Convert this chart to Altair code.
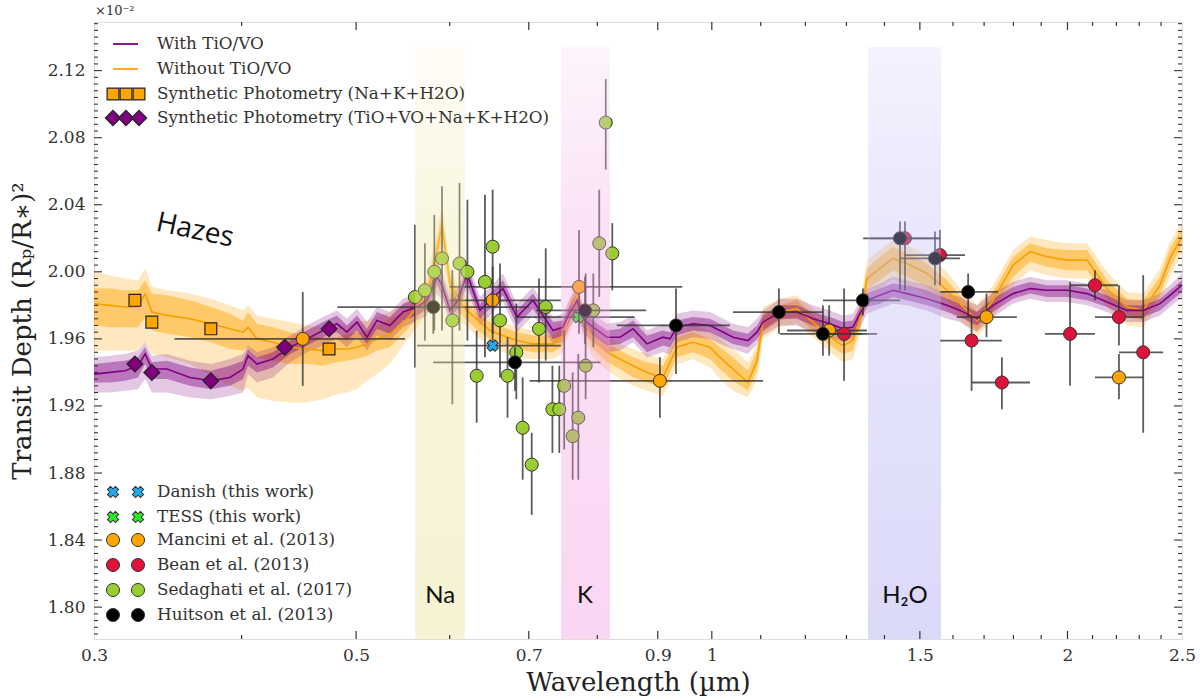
import altair as alt
import pandas as pd

# ---------------- model spectra ----------------
wavelength = [0.300, 0.3095, 0.3187, 0.3269, 0.3314, 0.3359, 0.3459, 0.3617, 0.3768, 0.3910,
              0.4011, 0.4050, 0.4121, 0.4252, 0.4395, 0.4543, 0.4687, 0.4817, 0.4911, 0.5008,
              0.5107, 0.5207, 0.5341, 0.5478, 0.5630, 0.5740, 0.5854, 0.5911, 0.6004, 0.6099,
              0.6206, 0.6365, 0.6490, 0.6656, 0.6841, 0.7057, 0.7339, 0.7482, 0.7585, 0.7690,
              0.7779, 0.7933, 0.8153, 0.8362, 0.8577, 0.8813, 0.9091, 0.9217, 0.9344, 0.9639,
              0.9963, 1.0160, 1.0421, 1.0730, 1.0920, 1.1049, 1.1421, 1.1804, 1.2179, 1.2590,
              1.2914, 1.3166, 1.3349, 1.3532, 1.3878, 1.4234, 1.4626, 1.5210, 1.5815, 1.6221,
              1.6767, 1.7298, 1.7989, 1.8592, 1.9218, 1.9985, 2.0780, 2.1600, 2.2457, 2.3172,
              2.3953, 2.4422, 2.5000]

# Without TiO/VO (orange)
o_mid = [1.981, 1.980, 1.979, 1.979, 1.987, 1.976, 1.974, 1.972, 1.969, 1.966,
         1.964, 1.967, 1.960, 1.958, 1.955, 1.954, 1.953, 1.954, 1.954, 1.955,
         1.957, 1.960, 1.963, 1.969, 1.979, 1.986, 2.013, 2.028, 1.993, 1.983,
         1.977, 1.970, 1.965, 1.962, 1.959, 1.957, 1.957, 1.962, 1.976, 1.986,
         1.972, 1.960, 1.952, 1.948, 1.944, 1.940, 1.937, 1.946, 1.955, 1.958,
         1.955, 1.949, 1.942, 1.934, 1.947, 1.970, 1.976, 1.978, 1.970, 1.961,
         1.956, 1.959, 1.972, 1.996, 2.002, 2.008, 2.005, 1.999, 1.989, 1.981,
         1.971, 1.983, 2.004, 2.012, 2.009, 2.007, 2.007, 1.990, 1.979, 1.977,
         1.992, 2.008, 2.021]
o_hi1 = [1.990, 1.990, 1.989, 1.989, 1.995, 1.987, 1.986, 1.983, 1.979, 1.975,
         1.971, 1.976, 1.969, 1.967, 1.964, 1.962, 1.961, 1.961, 1.963, 1.964,
         1.965, 1.968, 1.972, 1.976, 1.984, 1.992, 2.019, 2.034, 1.998, 1.987,
         1.981, 1.974, 1.970, 1.967, 1.964, 1.962, 1.962, 1.967, 1.981, 1.992,
         1.977, 1.965, 1.957, 1.953, 1.949, 1.946, 1.944, 1.952, 1.961, 1.964,
         1.960, 1.955, 1.949, 1.941, 1.953, 1.975, 1.980, 1.983, 1.974, 1.966,
         1.961, 1.964, 1.977, 2.002, 2.009, 2.015, 2.011, 2.005, 1.995, 1.986,
         1.976, 1.988, 2.009, 2.017, 2.014, 2.013, 2.013, 1.995, 1.984, 1.983,
         1.997, 2.014, 2.026]
o_lo1 = [1.968, 1.967, 1.967, 1.967, 1.973, 1.965, 1.963, 1.961, 1.958, 1.954,
         1.953, 1.955, 1.949, 1.947, 1.945, 1.945, 1.944, 1.946, 1.947, 1.948,
         1.950, 1.953, 1.955, 1.963, 1.972, 1.980, 2.006, 2.019, 1.987, 1.977,
         1.971, 1.964, 1.960, 1.957, 1.954, 1.952, 1.952, 1.956, 1.970, 1.979,
         1.966, 1.954, 1.946, 1.942, 1.937, 1.934, 1.931, 1.940, 1.949, 1.952,
         1.948, 1.942, 1.935, 1.929, 1.941, 1.964, 1.971, 1.973, 1.965, 1.956,
         1.951, 1.953, 1.967, 1.990, 1.995, 2.001, 1.997, 1.991, 1.983, 1.975,
         1.965, 1.977, 1.997, 2.006, 2.003, 2.001, 2.001, 1.984, 1.973, 1.971,
         1.986, 2.002, 2.016]
o_hi2 = [2.000, 1.998, 1.996, 1.995, 2.002, 1.991, 1.989, 1.987, 1.984, 1.980,
         1.977, 1.980, 1.974, 1.972, 1.970, 1.968, 1.967, 1.967, 1.968, 1.970,
         1.971, 1.973, 1.976, 1.980, 1.989, 1.996, 2.024, 2.040, 2.002, 1.991,
         1.985, 1.978, 1.974, 1.970, 1.967, 1.965, 1.965, 1.971, 1.985, 1.996,
         1.981, 1.970, 1.961, 1.957, 1.954, 1.951, 1.948, 1.956, 1.965, 1.968,
         1.965, 1.960, 1.954, 1.946, 1.957, 1.979, 1.984, 1.986, 1.978, 1.970,
         1.965, 1.968, 1.981, 2.007, 2.013, 2.019, 2.016, 2.010, 2.000, 1.990,
         1.980, 1.992, 2.013, 2.021, 2.019, 2.017, 2.017, 2.000, 1.988, 1.987,
         2.002, 2.018, 2.030]
o_lo2 = [1.953, 1.953, 1.953, 1.953, 1.958, 1.951, 1.949, 1.945, 1.938, 1.932,
         1.929, 1.931, 1.925, 1.923, 1.922, 1.922, 1.924, 1.927, 1.928, 1.930,
         1.935, 1.939, 1.945, 1.956, 1.967, 1.975, 2.000, 2.012, 1.983, 1.973,
         1.967, 1.960, 1.956, 1.952, 1.949, 1.948, 1.948, 1.952, 1.965, 1.974,
         1.961, 1.949, 1.941, 1.936, 1.932, 1.929, 1.926, 1.934, 1.945, 1.948,
         1.943, 1.936, 1.929, 1.925, 1.936, 1.960, 1.967, 1.969, 1.961, 1.952,
         1.946, 1.948, 1.963, 1.986, 1.990, 1.996, 1.992, 1.986, 1.978, 1.971,
         1.961, 1.972, 1.992, 2.001, 1.998, 1.996, 1.996, 1.979, 1.968, 1.967,
         1.981, 1.997, 2.011]

# With TiO/VO (purple)
p_mid = [1.939, 1.940, 1.941, 1.944, 1.951, 1.942, 1.942, 1.937, 1.935, 1.937,
         1.942, 1.950, 1.945, 1.948, 1.955, 1.960, 1.965, 1.969, 1.964, 1.970,
         1.961, 1.971, 1.968, 1.976, 1.979, 1.983, 1.997, 1.992, 1.977, 1.983,
         1.999, 1.977, 1.983, 1.990, 1.973, 1.983, 1.965, 1.967, 1.976, 1.983,
         1.972, 1.967, 1.961, 1.961, 1.966, 1.957, 1.961, 1.960, 1.967, 1.969,
         1.968, 1.965, 1.961, 1.959, 1.964, 1.970, 1.976, 1.976, 1.972, 1.969,
         1.966, 1.967, 1.975, 1.983, 1.986, 1.989, 1.987, 1.984, 1.980, 1.977,
         1.972, 1.980, 1.987, 1.990, 1.989, 1.989, 1.987, 1.982, 1.977, 1.977,
         1.981, 1.986, 1.992]
p_hi1 = [1.945, 1.946, 1.947, 1.949, 1.955, 1.946, 1.947, 1.943, 1.941, 1.944,
         1.947, 1.954, 1.949, 1.952, 1.959, 1.965, 1.970, 1.974, 1.968, 1.974,
         1.966, 1.976, 1.973, 1.981, 1.984, 1.987, 2.002, 1.997, 1.982, 1.987,
         2.004, 1.981, 1.987, 1.995, 1.977, 1.987, 1.970, 1.971, 1.980, 1.987,
         1.977, 1.971, 1.965, 1.966, 1.971, 1.962, 1.965, 1.964, 1.971, 1.973,
         1.972, 1.969, 1.965, 1.963, 1.968, 1.974, 1.980, 1.980, 1.976, 1.973,
         1.970, 1.971, 1.979, 1.987, 1.990, 1.993, 1.992, 1.989, 1.984, 1.981,
         1.976, 1.984, 1.991, 1.994, 1.992, 1.992, 1.990, 1.986, 1.980, 1.980,
         1.984, 1.989, 1.995]
p_lo1 = [1.934, 1.934, 1.935, 1.937, 1.945, 1.936, 1.936, 1.932, 1.930, 1.932,
         1.936, 1.944, 1.940, 1.943, 1.951, 1.956, 1.961, 1.964, 1.959, 1.965,
         1.957, 1.966, 1.963, 1.971, 1.974, 1.978, 1.992, 1.986, 1.973, 1.978,
         1.993, 1.972, 1.978, 1.986, 1.968, 1.978, 1.960, 1.962, 1.971, 1.978,
         1.967, 1.962, 1.956, 1.957, 1.961, 1.952, 1.956, 1.955, 1.962, 1.965,
         1.964, 1.961, 1.957, 1.955, 1.960, 1.965, 1.972, 1.972, 1.968, 1.965,
         1.962, 1.963, 1.971, 1.979, 1.981, 1.985, 1.983, 1.980, 1.976, 1.973,
         1.968, 1.976, 1.984, 1.987, 1.985, 1.985, 1.983, 1.979, 1.973, 1.973,
         1.977, 1.982, 1.988]
p_hi2 = [1.949, 1.950, 1.951, 1.953, 1.958, 1.950, 1.951, 1.947, 1.945, 1.948,
         1.951, 1.956, 1.952, 1.955, 1.962, 1.968, 1.973, 1.977, 1.972, 1.978,
         1.970, 1.979, 1.976, 1.984, 1.987, 1.991, 2.006, 2.001, 1.986, 1.991,
         2.007, 1.985, 1.991, 1.999, 1.981, 1.991, 1.973, 1.975, 1.984, 1.991,
         1.980, 1.975, 1.969, 1.970, 1.974, 1.965, 1.969, 1.968, 1.975, 1.977,
         1.976, 1.973, 1.969, 1.967, 1.972, 1.977, 1.984, 1.984, 1.980, 1.977,
         1.974, 1.975, 1.983, 1.990, 1.993, 1.997, 1.995, 1.992, 1.987, 1.985,
         1.980, 1.988, 1.994, 1.997, 1.995, 1.995, 1.993, 1.989, 1.983, 1.983,
         1.987, 1.992, 1.999]
p_lo2 = [1.928, 1.928, 1.929, 1.930, 1.936, 1.928, 1.928, 1.925, 1.924, 1.926,
         1.928, 1.939, 1.934, 1.937, 1.946, 1.952, 1.956, 1.960, 1.955, 1.961,
         1.953, 1.962, 1.959, 1.967, 1.971, 1.974, 1.987, 1.983, 1.969, 1.974,
         1.990, 1.968, 1.974, 1.982, 1.964, 1.974, 1.957, 1.958, 1.967, 1.974,
         1.964, 1.958, 1.952, 1.953, 1.958, 1.949, 1.952, 1.951, 1.958, 1.961,
         1.960, 1.957, 1.954, 1.951, 1.957, 1.962, 1.968, 1.968, 1.964, 1.961,
         1.958, 1.960, 1.967, 1.975, 1.978, 1.981, 1.980, 1.977, 1.972, 1.970,
         1.964, 1.973, 1.981, 1.984, 1.982, 1.982, 1.980, 1.976, 1.970, 1.970,
         1.974, 1.979, 1.985]

# ---------------- synthetic photometry ----------------
syn_sq_wl = [0.3249, 0.3358, 0.3767, 0.4743]
syn_sq_val = [1.983, 1.970, 1.966, 1.954]
syn_di_wl = [0.3249, 0.3358, 0.3767, 0.4351, 0.4743]
syn_di_val = [1.945, 1.940, 1.935, 1.955, 1.966]

# ---------------- observations ----------------
sed_wl = [0.5607, 0.5717, 0.5823, 0.5911, 0.6031, 0.6116, 0.6211, 0.6427, 0.6524, 0.6324,
          0.6618, 0.6716, 0.6832, 0.6917, 0.7040, 0.7235, 0.7141, 0.7500, 0.7330, 0.7429,
          0.7625, 0.7709, 0.7820, 0.7938, 0.8030, 0.8237, 0.8133]
sed_val = [1.985, 1.989, 2.000, 2.008, 1.971, 2.005, 2.000, 1.994, 2.015, 1.938,
           1.971, 1.938, 1.952, 1.907, 1.885, 1.979, 1.966, 1.932, 1.918, 1.918,
           1.902, 1.913, 1.944, 1.977, 2.017, 2.011, 2.089]
sed_lo = [1.943, 1.959, 1.965, 1.965, 1.921, 1.965, 1.959, 1.949, 1.959, 1.910,
          1.937, 1.913, 1.924, 1.876, 1.855, 1.947, 1.934, 1.894, 1.892, 1.892,
          1.876, 1.876, 1.924, 1.955, 1.985, 1.989, 2.061]
sed_hi = [2.028, 2.017, 2.034, 2.051, 2.001, 2.053, 2.043, 2.046, 2.049, 1.965,
          2.005, 1.961, 1.981, 1.937, 1.904, 2.014, 1.996, 1.965, 1.944, 1.944,
          1.940, 1.951, 1.999, 1.999, 2.049, 2.029, 2.115]

hui_wl = [0.5811, 0.6814, 0.7810, 0.9326, 1.1397, 1.2418, 1.3425, 1.4430, 1.5450, 1.6480]
hui_val = [1.979, 1.946, 1.977, 1.968, 1.976, 1.963, 1.983, 2.020, 2.008, 1.988]
hui_xlo = [0.482, 0.581, 0.710, 0.831, 1.042, 1.142, 1.242, 1.343, 1.443, 1.560]
hui_xhi = [0.700, 0.805, 0.880, 1.036, 1.242, 1.342, 1.443, 1.560, 1.622, 1.747]
hui_ylo = [1.963, 1.929, 1.957, 1.939, 1.963, 1.950, 1.974, 1.989, 1.992, 1.973]
hui_yhi = [1.995, 1.955, 1.997, 1.990, 1.990, 1.980, 1.990, 2.030, 2.024, 1.999]

bean_wl = [1.294, 1.457, 1.560, 1.659, 1.760, 2.010, 2.110, 2.211, 2.318]
bean_val = [1.963, 2.020, 2.010, 1.959, 1.934, 1.963, 1.992, 1.973, 1.952]
bean_xlo = [1.252, 1.360, 1.457, 1.560, 1.660, 1.914, 2.010, 2.110, 2.211]
bean_xhi = [1.380, 1.560, 1.638, 1.760, 1.859, 2.110, 2.207, 2.317, 2.410]
bean_ylo = [1.935, 1.989, 1.992, 1.929, 1.918, 1.932, 1.983, 1.956, 1.904]
bean_yhi = [1.990, 2.030, 2.025, 1.973, 1.949, 1.994, 2.001, 1.992, 1.998]

man_wl = [0.4506, 0.6524, 0.7720, 0.9038, 1.2569, 1.708, 2.211]
man_val = [1.960, 1.983, 1.991, 1.935, 1.965, 1.973, 1.937]
man_xlo = [0.351, 0.600, 0.600, 0.701, 1.158, 1.612, 2.110]
man_xhi = [0.550, 0.745, 0.944, 1.105, 1.353, 1.812, 2.317]
man_ylo = [1.932, 1.963, 1.963, 1.913, 1.950, 1.961, 1.924]
man_yhi = [1.988, 2.003, 2.025, 1.949, 1.980, 1.987, 1.951]

dan_wl, dan_val, dan_xlo, dan_xhi, dan_ylo, dan_yhi = [0.6524], [1.956], [0.563], [0.745], [1.953], [1.959]
tess_wl, tess_val, tess_xlo, tess_xhi, tess_ylo, tess_yhi = [0.771], [1.973], [0.684], [0.860], [1.970], [1.976]

# absorption bands
band_names = ["Na", "K", "H₂O"]
band_lo = [0.561, 0.7455, 1.356]
band_hi = [0.618, 0.820, 1.563]
band_label_wl = [0.589, 0.781, 1.457]
band_top = 2.134

x_major = [0.3, 0.5, 0.7, 0.9, 1, 1.5, 2, 2.5]
x_minor = [0.4, 0.6, 0.8, 1.1, 1.2, 1.3, 1.4, 1.6, 1.7, 1.8, 1.9, 2.1, 2.2, 2.3, 2.4]
y_major = [1.80, 1.84, 1.88, 1.92, 1.96, 2.00, 2.04, 2.08, 2.12]
y_minor = [round(1.78 + 0.004 * k, 3) for k in range(1, 93)]
y_minor = [v for v in y_minor if all(abs(v - m) > 1e-6 for m in y_major)]

# ---------------- build ----------------
W, H = 1088, 617
SERIF = "DejaVu Serif"
PURPLE, ORANGE = "#800080", "#ffa500"

xs = alt.Scale(type="log", domain=[0.3, 2.5], nice=False)
ys = alt.Scale(domain=[1.781, 2.149], nice=False, zero=False)

x_axis = alt.Axis(values=x_major, format="~g", labelFont=SERIF, labelFontSize=17, labelColor="#333",
                  labelPadding=8, labelFlush=False, labelOverlap=False, ticks=False, domain=False,
                  grid=False, title="Wavelength (µm)", titleFont=SERIF, titleFontSize=26,
                  titleFontWeight="normal", titleColor="#222", titlePadding=6)
y_axis = alt.Axis(values=y_major, format=".2f", labelFont=SERIF, labelFontSize=17, labelColor="#333",
                  labelPadding=9, labelOverlap=False, ticks=False, domain=False, grid=False,
                  title="Transit Depth (Rₚ/R∗)²", titleFont=SERIF, titleFontSize=26,
                  titleFontWeight="normal", titleColor="#222", titlePadding=12)


def X(f):
    return alt.X(f, type="quantitative", scale=xs, axis=x_axis, title="Wavelength (µm)")


def Y(f):
    return alt.Y(f, type="quantitative", scale=ys, axis=y_axis, title="Transit Depth (Rₚ/R∗)²")


model = pd.DataFrame(dict(wl=wavelength, o_mid=o_mid, o_hi1=o_hi1, o_lo1=o_lo1, o_hi2=o_hi2, o_lo2=o_lo2,
                          p_mid=p_mid, p_hi1=p_hi1, p_lo1=p_lo1, p_hi2=p_hi2, p_lo2=p_lo2))
mb = alt.Chart(model)
layers = [
    mb.mark_area(color=ORANGE, opacity=0.25).encode(x=X("wl"), y=Y("o_lo2"), y2="o_hi2"),
    mb.mark_area(color=ORANGE, opacity=0.45).encode(x=X("wl"), y=Y("o_lo1"), y2="o_hi1"),
    mb.mark_area(color=PURPLE, opacity=0.22).encode(x=X("wl"), y=Y("p_lo2"), y2="p_hi2"),
    mb.mark_area(color=PURPLE, opacity=0.4).encode(x=X("wl"), y=Y("p_lo1"), y2="p_hi1"),
    mb.mark_line(color="#f5a000", strokeWidth=1.6).encode(x=X("wl"), y=Y("o_mid")),
    mb.mark_line(color=PURPLE, strokeWidth=1.6).encode(x=X("wl"), y=Y("p_mid")),
]

syn_sq = pd.DataFrame(dict(wl=syn_sq_wl, val=syn_sq_val))
syn_di = pd.DataFrame(dict(wl=syn_di_wl, val=syn_di_val))
layers.append(alt.Chart(syn_sq).mark_point(shape="square", filled=True, fill=ORANGE, stroke="#222",
                                           strokeWidth=1.2, size=140, opacity=1)
              .encode(x=X("wl"), y=Y("val")))
layers.append(alt.Chart(syn_di).mark_point(shape="diamond", filled=True, fill=PURPLE, stroke="#222",
                                           strokeWidth=1.2, size=250, opacity=1)
              .encode(x=X("wl"), y=Y("val")))

frames = []
for name, wl_, v_, xl, xh, yl, yh in [
    ("Danish", dan_wl, dan_val, dan_xlo, dan_xhi, dan_ylo, dan_yhi),
    ("TESS", tess_wl, tess_val, tess_xlo, tess_xhi, tess_ylo, tess_yhi),
    ("Mancini", man_wl, man_val, man_xlo, man_xhi, man_ylo, man_yhi),
    ("Bean", bean_wl, bean_val, bean_xlo, bean_xhi, bean_ylo, bean_yhi),
    ("Sedaghati", sed_wl, sed_val, [None] * len(sed_wl), [None] * len(sed_wl), sed_lo, sed_hi),
    ("Huitson", hui_wl, hui_val, hui_xlo, hui_xhi, hui_ylo, hui_yhi),
]:
    frames.append(pd.DataFrame(dict(source=name, wl=wl_, val=v_, xlo=xl, xhi=xh, ylo=yl, yhi=yh)))
obs = pd.concat(frames, ignore_index=True)

styles = {
    "Danish": dict(shape="cross", fill="#22aaee", size=130, angle=45),
    "TESS": dict(shape="cross", fill="#22ee22", size=130, angle=45),
    "Mancini": dict(shape="circle", fill="#ffa500", size=170),
    "Bean": dict(shape="circle", fill="#dc143c", size=170),
    "Sedaghati": dict(shape="circle", fill="#9acd32", size=170),
    "Huitson": dict(shape="circle", fill="#000000", size=170),
}

for name in ["Danish", "TESS", "Mancini", "Bean", "Sedaghati", "Huitson"]:
    src = alt.Chart(obs).transform_filter(alt.datum.source == name)
    layers.append(src.mark_rule(color="#333", strokeWidth=1.8, opacity=0.8)
                  .encode(x=X("wl"), y=Y("ylo"), y2="yhi"))
    if name != "Sedaghati":
        layers.append(src.mark_rule(color="#333", strokeWidth=1.8, opacity=0.8)
                      .encode(x=X("xlo"), x2="xhi", y=Y("val")))
    st = styles[name]
    layers.append(src.mark_point(filled=True, stroke="#333", strokeWidth=1, opacity=1, **st)
                  .encode(x=X("wl"), y=Y("val")))

# shaded absorption bands (overlaid, translucent)
grads = [
    ["#fcf9e5", "#eee5a4", "#e5da81"],
    ["#f9e2f6", "#f4ace8", "#f18add"],
    ["#dddafc", "#c0bdf6", "#9892eb"],
]
for lo, hi, g in zip(band_lo, band_hi, grads):
    fill = alt.LinearGradient(gradient="linear", x1=0, x2=0, y1=0, y2=1,
                              stops=[alt.GradientStop(color=g[0], offset=0),
                                     alt.GradientStop(color=g[1], offset=0.3),
                                     alt.GradientStop(color=g[2], offset=1)])
    bdf = pd.DataFrame(dict(lo=[lo], hi=[hi], top=[band_top], bot=[1.781]))
    layers.append(alt.Chart(bdf).mark_rect(fill=fill, opacity=0.35)
                  .encode(x=X("lo"), x2="hi", y=Y("top"), y2="bot"))

lab = pd.DataFrame(dict(wl=band_label_wl, val=[1.8066] * 3, t=band_names))
layers.append(alt.Chart(lab).mark_text(font="Lato, DejaVu Sans", fontSize=24, color="#111")
              .encode(x=X("wl"), y=Y("val"), text="t:N"))
haz = pd.DataFrame(dict(wl=[0.3652], val=[2.0245], t=["Hazes"]))
layers.append(alt.Chart(haz).mark_text(font="Open Sans", fontSize=28, angle=12, color="#111")
              .encode(x=X("wl"), y=Y("val"), text="t:N"))

# inward ticks on all four sides
TICK = "#333"
for vals, L in [(x_major[1:-1], 8), (x_minor, 4)]:
    tdf = pd.DataFrame(dict(v=vals))
    layers.append(alt.Chart(tdf).mark_rule(color=TICK, strokeWidth=1.2)
                  .encode(x=X("v"), y=alt.value(H), y2=alt.value(H - L)))
    layers.append(alt.Chart(tdf).mark_rule(color=TICK, strokeWidth=1.2)
                  .encode(x=X("v"), y=alt.value(0), y2=alt.value(L)))
for vals, L in [(y_major, 8), (y_minor, 4)]:
    tdf = pd.DataFrame(dict(v=vals))
    layers.append(alt.Chart(tdf).mark_rule(color=TICK, strokeWidth=1.1)
                  .encode(y=Y("v"), x=alt.value(0), x2=alt.value(L)))
    layers.append(alt.Chart(tdf).mark_rule(color=TICK, strokeWidth=1.1)
                  .encode(y=Y("v"), x=alt.value(W), x2=alt.value(W - L)))

# ---------------- hand-made legends ----------------
one = pd.DataFrame(dict(d=[0]))
LEG_FONT = 16.8
top_rows = [("With TiO/VO", "line", PURPLE, 22),
            ("Without TiO/VO", "line", ORANGE, 47),
            ("Synthetic Photometry (Na+K+H2O)", "square", ORANGE, 72),
            ("Synthetic Photometry (TiO+VO+Na+K+H2O)", "diamond", PURPLE, 96)]
for label, kind, col, ly in top_rows:
    if kind == "line":
        layers.append(alt.Chart(one).mark_rule(color=col, strokeWidth=1.8)
                      .encode(x=alt.value(19), x2=alt.value(44), y=alt.value(ly)))
    else:
        for lx in [19, 32, 45]:
            layers.append(alt.Chart(one).mark_point(shape=kind, filled=True, fill=col, stroke="#222",
                                                    strokeWidth=1.2, opacity=1,
                                                    size=140 if kind == "square" else 230)
                          .encode(x=alt.value(lx), y=alt.value(ly)))
    layers.append(alt.Chart(one).mark_text(text=label, align="left", baseline="middle", font=SERIF,
                                           fontSize=LEG_FONT, color="#333")
                  .encode(x=alt.value(63), y=alt.value(ly)))

bot_rows = [("Danish (this work)", "Danish", 470),
            ("TESS (this work)", "TESS", 495),
            ("Mancini et al. (2013)", "Mancini", 518),
            ("Bean et al. (2013)", "Bean", 543),
            ("Sedaghati et al. (2017)", "Sedaghati", 568),
            ("Huitson et al. (2013)", "Huitson", 593)]
for label, key, ly in bot_rows:
    st = styles[key]
    for lx in [19, 44]:
        layers.append(alt.Chart(one).mark_point(filled=True, stroke="#333", strokeWidth=1, opacity=1, **st)
                      .encode(x=alt.value(lx), y=alt.value(ly)))
    layers.append(alt.Chart(one).mark_text(text=label, align="left", baseline="middle", font=SERIF,
                                           fontSize=LEG_FONT, color="#333")
                  .encode(x=alt.value(63), y=alt.value(ly)))

layers.append(alt.Chart(one).mark_text(text="×10⁻²", align="left", baseline="middle", font=SERIF,
                                       fontSize=13, color="#333")
              .encode(x=alt.value(1), y=alt.value(-11)))

chart = (alt.layer(*layers)
         .properties(width=W, height=H, autosize="none",
                     padding={"left": 94, "top": 22, "right": 18, "bottom": 60})
         .configure_view(stroke="#333", strokeWidth=1.6)
         .configure(font=SERIF, background="white"))

chart.save("out.html", embed_options={"renderer": "svg", "actions": False})
